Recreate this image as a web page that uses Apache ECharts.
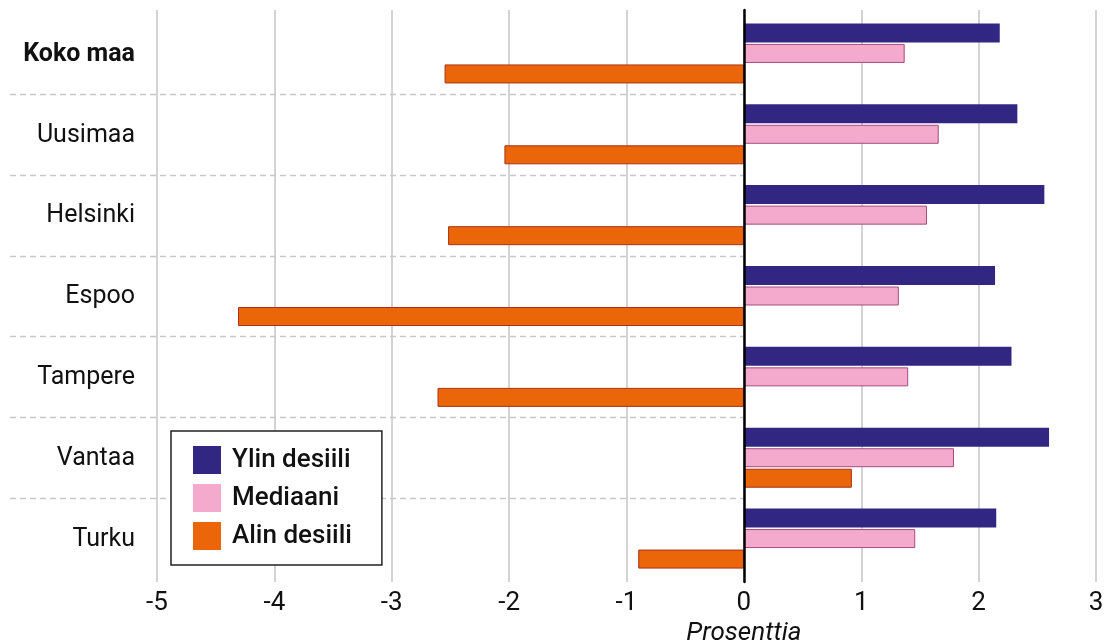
<!DOCTYPE html>
<html>
<head>
<meta charset="utf-8">
<script src="https://cdn.jsdelivr.net/npm/echarts@6/dist/echarts.min.js"></script>
<style>
html,body{margin:0;padding:0;background:#fff;}
#chart{width:1109px;height:642px;}
</style>
</head>
<body>
<div id="chart"></div>
<script>
const categories = ['Koko maa', 'Uusimaa', 'Helsinki', 'Espoo', 'Tampere', 'Vantaa', 'Turku'];
const ylinDesiili = [2.18, 2.33, 2.56, 2.14, 2.28, 2.60, 2.15];
const mediaani    = [1.37, 1.66, 1.56, 1.32, 1.40, 1.79, 1.46];
const alinDesiili = [-2.55, -2.04, -2.52, -4.31, -2.61, 0.92, -0.90];
const seriesNames = ['Ylin desiili', 'Mediaani', 'Alin desiili'];
const xTicks = { min: -5, max: 3, interval: 1 };
const axisTitle = 'Prosenttia';

const FONT = 'Roboto, "Noto Sans", sans-serif';
const chart = echarts.init(document.getElementById('chart'), null, { renderer: 'canvas' });

const option = {
  animation: false,
  backgroundColor: '#fff',
  textStyle: { fontFamily: FONT },
  grid: [
    { left: 157, right: 13, top: 10, bottom: 60 },
    { left: 157, right: 13, top: 13, bottom: 63 }
  ],
  xAxis: [
    {
      gridIndex: 0, type: 'value', min: xTicks.min, max: xTicks.max, interval: xTicks.interval,
      axisLine: { show: false }, axisTick: { show: false },
      splitLine: { show: true, lineStyle: { color: '#c4c4c4', width: 1.5 } },
      axisLabel: { fontSize: 26, color: '#111', margin: 8, fontFamily: FONT }
    },
    {
      gridIndex: 1, type: 'value', min: xTicks.min, max: xTicks.max, interval: xTicks.interval,
      show: false, splitLine: { show: false }
    }
  ],
  yAxis: [
    {
      gridIndex: 0, type: 'value', min: 0, max: 1, z: 10,
      axisLine: { show: true, onZero: true, lineStyle: { color: '#000', width: 2.5 } },
      axisTick: { show: false }, axisLabel: { show: false }, splitLine: { show: false }
    },
    {
      gridIndex: 1, type: 'category', data: categories, inverse: true,
      axisLine: { show: false }, axisTick: { show: false }, splitLine: { show: false },
      axisLabel: {
        fontSize: 25, color: '#111', margin: 22, fontFamily: FONT, padding: [2, 0, 0, 0],
        formatter: function (v, i) { return i === 0 ? '{b|' + v + '}' : '{n|' + v + '}'; },
        rich: {
          b: { fontSize: 25, fontWeight: 'bold', color: '#111', fontFamily: FONT },
          n: { fontSize: 25, color: '#111', fontFamily: FONT }
        }
      }
    }
  ],
  legend: {
    orient: 'vertical', left: 171, top: 431,
    padding: [15, 30, 15, 22],
    itemWidth: 28, itemHeight: 28, itemGap: 10,
    borderColor: '#222', borderWidth: 1.5, backgroundColor: '#fff',
    icon: 'rect',
    textStyle: { fontSize: 26, fontWeight: 500, color: '#111', fontFamily: FONT, padding: [0, 0, 0, 6] },
    data: [
      { name: seriesNames[0], itemStyle: { borderWidth: 0 } },
      { name: seriesNames[1], itemStyle: { borderWidth: 0 } },
      { name: seriesNames[2], itemStyle: { borderWidth: 0 } }
    ]
  },
  series: [
    {
      name: seriesNames[0], type: 'bar', xAxisIndex: 1, yAxisIndex: 1, data: ylinDesiili,
      barWidth: 19, barGap: '8%',
      itemStyle: { color: '#312783' }
    },
    {
      name: seriesNames[1], type: 'bar', xAxisIndex: 1, yAxisIndex: 1, data: mediaani,
      barWidth: 19, barGap: '8%',
      itemStyle: { color: '#f4aacd', borderColor: '#a84a7c', borderWidth: 1 }
    },
    {
      name: seriesNames[2], type: 'bar', xAxisIndex: 1, yAxisIndex: 1, data: alinDesiili,
      barWidth: 19, barGap: '8%',
      itemStyle: { color: '#eb6608', borderColor: '#a8321a', borderWidth: 1 }
    }
  ]
};
chart.setOption(option);

// dashed separators between category bands, from the label area to the zero line
const graphics = [];
const zeroX = chart.convertToPixel({ xAxisIndex: 1 }, 0);
for (let i = 0; i < categories.length - 1; i++) {
  const y0 = chart.convertToPixel({ yAxisIndex: 1 }, categories[i]);
  const y1 = chart.convertToPixel({ yAxisIndex: 1 }, categories[i + 1]);
  const y = Math.round((y0 + y1) / 2) + 0.5;
  graphics.push({
    type: 'line', z: 1, silent: true,
    shape: { x1: 10, y1: y, x2: zeroX, y2: y },
    style: { stroke: '#c8c8c8', lineWidth: 1.5, lineDash: [6, 4] }
  });
}
graphics.push({
  type: 'text', z: 5, x: zeroX, y: 620,
  style: {
    text: axisTitle, fill: '#111',
    font: 'italic 26px ' + FONT, align: 'center', verticalAlign: 'top'
  }
});
chart.setOption({ graphic: graphics });
</script>
</body>
</html>
